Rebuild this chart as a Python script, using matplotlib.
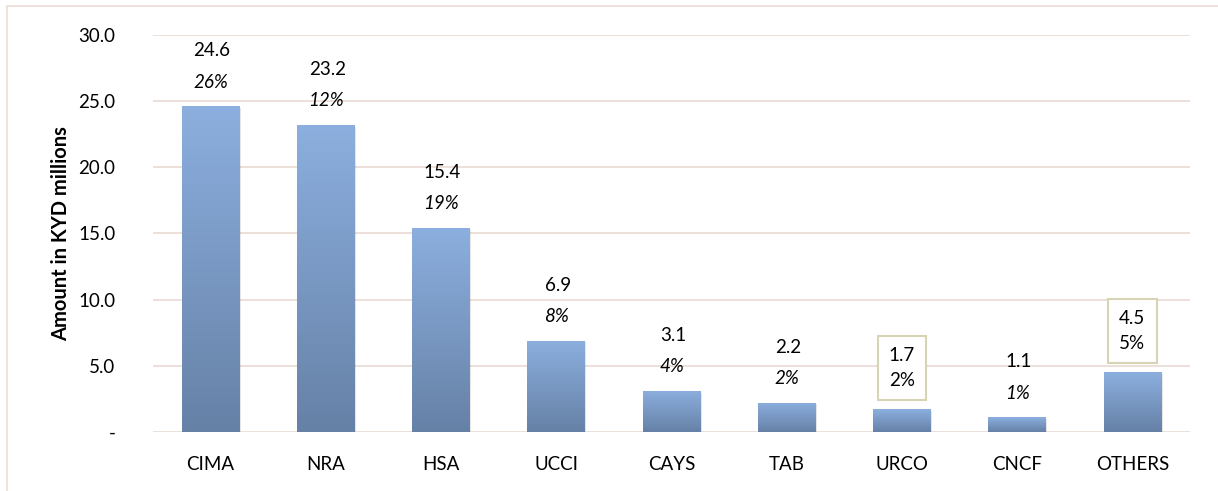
import numpy as np
import matplotlib.pyplot as plt
import matplotlib.patches as mpatches
from matplotlib.colors import LinearSegmentedColormap

plt.rcParams['font.family'] = ['Lato', 'DejaVu Sans']

categories = ["CIMA", "NRA", "HSA", "UCCI", "CAYS", "TAB", "URCO", "CNCF", "OTHERS"]
amounts = [24.6, 23.2, 15.4, 6.9, 3.1, 2.2, 1.7, 1.1, 4.5]
shares = ["26%", "12%", "19%", "8%", "4%", "2%", "2%", "1%", "5%"]
boxed = ["URCO", "OTHERS"]
y_ticks = [0, 5, 10, 15, 20, 25, 30]
y_tick_labels = ["-", "5.0", "10.0", "15.0", "20.0", "25.0", "30.0"]

FS = 13.5


def gradient_bars(ax, bars):
    cmap = LinearSegmentedColormap.from_list("bar", ["#6681a6", "#8cafdf"])
    grad = np.linspace(0, 1, 256).reshape(-1, 1)
    for bar in bars:
        x0, y0 = bar.get_x(), bar.get_y()
        w, h = bar.get_width(), bar.get_height()
        # soft shadow below / right of the bar
        shadow = mpatches.Rectangle((x0 + 0.012, y0 - 0.12), w, h, facecolor="#000000",
                                    alpha=0.10, edgecolor="none", zorder=1)
        ax.add_patch(shadow)
        im = ax.imshow(grad, cmap=cmap, aspect="auto", origin="lower",
                       extent=(x0, x0 + w, y0, y0 + h), zorder=2)
        im.set_clip_path(bar)
        bar.set_facecolor("none")


def main():
    fig = plt.figure(figsize=(12.18, 4.91), dpi=100)
    ax = fig.add_axes([0.1256, 0.1202, 0.977 - 0.1256, 0.9287 - 0.1202])

    # outer chart frame
    fig.patches.append(mpatches.Rectangle((7 / 1218, -0.1), 1.2, 1.1 - 6 / 491,
                                          transform=fig.transFigure, fill=False,
                                          edgecolor="#ecdcd6", linewidth=1.2))

    x = np.arange(len(categories))
    bars = ax.bar(x, amounts, width=0.5, zorder=2, edgecolor="none")
    gradient_bars(ax, bars)

    for i, (cat, amt, share) in enumerate(zip(categories, amounts, shares)):
        if cat in boxed:
            ax.annotate(f"{amt:.1f}\n{share}", (i, amt), xytext=(0, 30),
                        textcoords="offset points", ha="center", va="center",
                        fontsize=FS, linespacing=1.55, zorder=5,
                        bbox=dict(boxstyle="square,pad=0.6", facecolor="white",
                                  edgecolor="#d6d4b4", linewidth=1.5))
        else:
            ax.annotate(f"{amt:.1f}", (i, amt), xytext=(1, 40),
                        textcoords="offset points", ha="center", va="center",
                        fontsize=FS, zorder=5)
            ax.annotate(share, (i, amt), xytext=(0, 17.5),
                        textcoords="offset points", ha="center", va="center",
                        fontsize=FS, style="italic", zorder=5)

    ax.set_xlim(-0.5, len(categories) - 0.5)
    ax.set_ylim(0, 30)
    ax.set_yticks(y_ticks)
    ax.set_yticklabels(y_tick_labels, fontsize=FS)
    ax.set_xticks(x)
    ax.set_xticklabels(categories, fontsize=FS)
    ax.tick_params(axis="y", length=0, pad=27)
    ax.tick_params(axis="x", length=0, pad=17)
    ax.grid(axis="y", color="#ecdcd6", linewidth=1.3, zorder=0)
    ax.set_axisbelow(True)
    for s in ax.spines.values():
        s.set_visible(False)
    ax.set_ylabel("Amount in KYD millions", fontsize=14.5, fontweight="bold", labelpad=5)

    fig.savefig("out.png", dpi=100)


if __name__ == "__main__":
    main()
